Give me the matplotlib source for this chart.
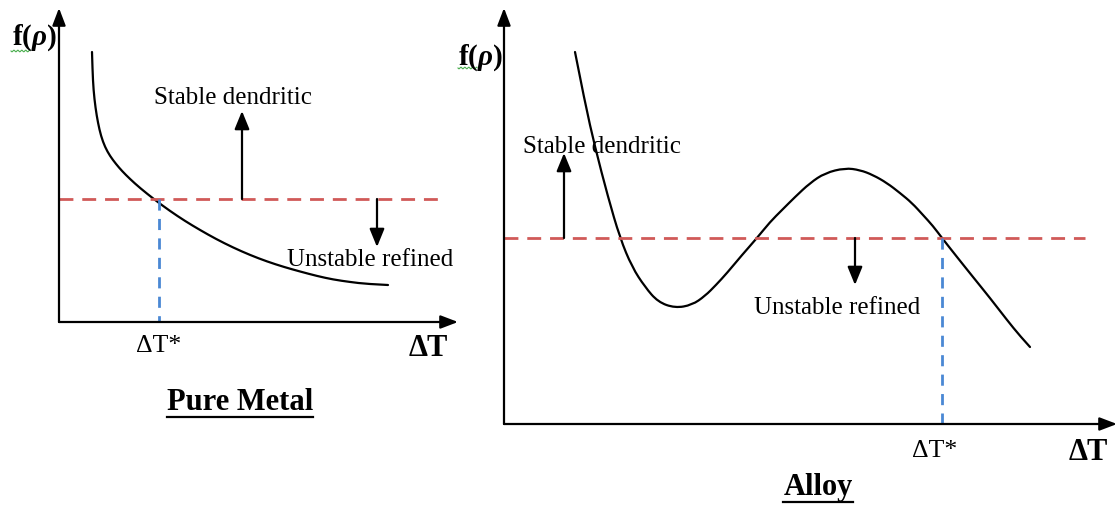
import matplotlib
matplotlib.use("Agg")
import matplotlib.pyplot as plt
from matplotlib.path import Path
from matplotlib.patches import PathPatch
import numpy as np

plt.rcParams["font.family"] = ["Liberation Serif", "DejaVu Serif"]
plt.rcParams["mathtext.fontset"] = "custom"
plt.rcParams["mathtext.rm"] = "Liberation Serif"
plt.rcParams["mathtext.it"] = "Liberation Serif:italic:bold"
plt.rcParams["mathtext.bf"] = "Liberation Serif:bold"

# ---- Pure metal: f(rho) falls steadily with undercooling ----
metal_x = [92, 92.5, 93.5, 95.5, 98, 101, 105, 110, 116, 122, 130, 140, 155,
           170, 185, 200, 216, 233, 250, 267, 284, 300, 317, 333, 350, 367, 388]
metal_y = [52, 70, 90, 108, 123, 136, 147, 156, 164, 171, 179, 188, 200,
           211, 221, 230, 239, 247.5, 255, 261.5, 267, 271.5, 276, 279.5, 282,
           284, 285]
metal_crit_y = 199          # stability threshold
metal_crit_x = 159          # Delta T*
metal_axis = dict(x0=59, y0=322, top=8, right=458)
metal_thr_span = (59, 438)

# ---- Alloy: f(rho) has a minimum and a maximum ----
alloy_x = [575, 585, 595, 608, 620, 632, 645, 658, 675, 692, 705, 716, 727,
           742, 757, 770, 782, 795, 810, 825, 845, 860, 873, 887, 900, 912,
           923, 933, 942, 957, 973, 990, 1007, 1020, 1030]
alloy_y = [52, 103, 147, 197, 238, 267, 287, 302, 308, 305, 296, 285, 273,
           255, 238, 222, 210, 197, 183, 173, 168, 170, 175, 183, 193, 203,
           215, 226, 238, 257, 277, 298, 320, 336, 347]
alloy_crit_y = 238
alloy_crit_x = 942
alloy_axis = dict(x0=504, y0=424, top=8, right=1117)
alloy_thr_span = (504, 1085)

# arrows: (x, y_tail, y_tip)
metal_arrows = [(242, 199, 111), (377, 199, 247)]
alloy_arrows = [(564, 238, 153), (855, 238, 285)]

RED = "#d05a58"
BLUE = "#4a88d4"

fig = plt.figure(figsize=(11.19, 5.09), dpi=100)
ax = fig.add_axes([0, 0, 1, 1])
ax.set_xlim(0, 1119)
ax.set_ylim(509, 0)
ax.axis("off")


def smooth_curve(xs, ys, **kw):
    """Draw a smooth quadratic-Bezier path guided by the given points."""
    pts = list(zip(xs, ys))
    verts = [pts[0]]
    codes = [Path.MOVETO]
    for i in range(1, len(pts) - 1):
        if i < len(pts) - 2:
            end = ((pts[i][0] + pts[i + 1][0]) / 2, (pts[i][1] + pts[i + 1][1]) / 2)
        else:
            end = pts[i + 1]
        verts += [pts[i], end]
        codes += [Path.CURVE3, Path.CURVE3]
    ax.add_patch(PathPatch(Path(verts, codes), fill=False, **kw))


def arrow(x0, y0, x1, y1, hl=1.0, hw=0.38, lw=1.6):
    ax.annotate("", xy=(x1, y1), xytext=(x0, y0),
                arrowprops=dict(arrowstyle=f"-|>,head_length={hl},head_width={hw}",
                                lw=lw, color="black", shrinkA=0, shrinkB=0,
                                mutation_scale=10))


def panel(cx, cy, crit_x, crit_y, axis, span, arrows):
    # threshold and Delta T* markers
    ax.plot(span, [crit_y, crit_y], color=RED, lw=2.0, dashes=(5, 3.2))
    ax.plot([crit_x, crit_x], [crit_y, axis["y0"]], color=BLUE, lw=2.0,
            dashes=(4, 3))
    # curve
    smooth_curve(cx, cy, edgecolor="black", lw=1.6, capstyle="round")
    # axes
    arrow(axis["x0"], axis["y0"], axis["x0"], axis["top"], hl=1.05, hw=0.4)
    arrow(axis["x0"], axis["y0"], axis["right"], axis["y0"], hl=1.05, hw=0.4)
    for x, y0, y1 in arrows:
        arrow(x, y0, x, y1, hl=1.1, hw=0.45)


panel(metal_x, metal_y, metal_crit_x, metal_crit_y, metal_axis,
      metal_thr_span, metal_arrows)
panel(alloy_x, alloy_y, alloy_crit_x, alloy_crit_y, alloy_axis,
      alloy_thr_span, alloy_arrows)

fs_txt = 18
ylabel = r"$\mathbf{f(}\mathit{\rho}\mathbf{)}$"
for (x, y) in [(34, 38), (480, 58)]:
    ax.text(x, y, ylabel, fontsize=21, ha="center", va="center")
# spell-check squiggle under the f
for (x0, y0) in [(11, 51), (458, 68)]:
    sx = np.linspace(x0, x0 + 19, 40)
    ax.plot(sx, y0 + 0.8 * np.sin((sx - x0) * 1.6), color="#4caf50", lw=0.8)

ax.text(233, 98, "Stable dendritic", fontsize=fs_txt, ha="center", va="center")
ax.text(370, 260, "Unstable refined", fontsize=fs_txt, ha="center", va="center")
ax.text(602, 147, "Stable dendritic", fontsize=fs_txt, ha="center", va="center")
ax.text(837, 308, "Unstable refined", fontsize=fs_txt, ha="center", va="center")

ax.text(159, 346, "ΔT*", fontsize=18.5, ha="center", va="center")
ax.text(428, 348, "ΔT", fontsize=22, ha="center", va="center", fontweight="bold")
ax.text(935, 451, "ΔT*", fontsize=18.5, ha="center", va="center")
ax.text(1088, 453, "ΔT", fontsize=22, ha="center", va="center", fontweight="bold")

ax.text(240, 403, "Pure Metal", fontsize=22, ha="center", va="center",
        fontweight="bold")
ax.plot([167, 313], [417, 417], color="black", lw=1.6)
ax.text(818, 488, "Alloy", fontsize=22, ha="center", va="center",
        fontweight="bold")
ax.plot([783, 853], [502, 502], color="black", lw=1.6)

fig.savefig("out.png", dpi=100, facecolor="white")
